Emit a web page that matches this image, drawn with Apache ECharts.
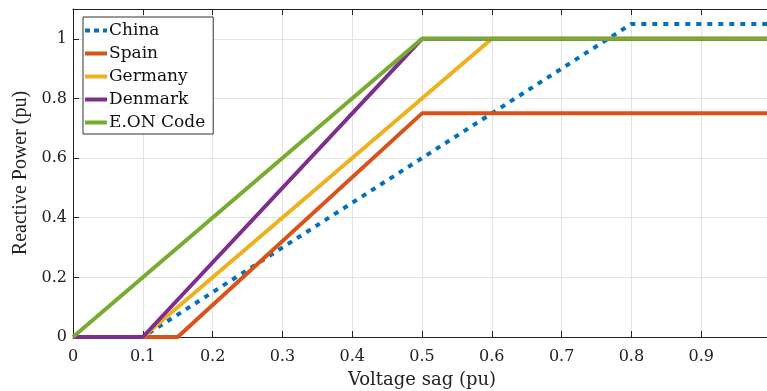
<!DOCTYPE html>
<html><head><meta charset="utf-8">
<script src="https://cdn.jsdelivr.net/npm/echarts@6/dist/echarts.min.js"></script>
<style>html,body{margin:0;padding:0;background:#fff}#c{width:767px;height:391px}</style>
</head><body><div id="c"></div>
<script>
const seriesNames = ['China', 'Spain', 'Germany', 'Denmark', 'E.ON Code'];
const chinaX = [0, 0.1, 0.8, 1.0];
const chinaY = [0, 0, 1.05, 1.05];
const spainX = [0, 0.15, 0.5, 1.0];
const spainY = [0, 0, 0.75, 0.75];
const germanyX = [0, 0.1, 0.6, 1.0];
const germanyY = [0, 0, 1, 1];
const denmarkX = [0, 0.1, 0.5, 1.0];
const denmarkY = [0, 0, 1, 1];
const eonX = [0, 0.5, 1.0];
const eonY = [0, 1, 1];
const xTicks = [0, 0.1, 0.2, 0.3, 0.4, 0.5, 0.6, 0.7, 0.8, 0.9];
const yTicks = [0, 0.2, 0.4, 0.6, 0.8, 1];

const colors = ['#0072BD', '#D95319', '#EDB120', '#7E2F8E', '#77AC30'];
const xs = [chinaX, spainX, germanyX, denmarkX, eonX];
const ys = [chinaY, spainY, germanyY, denmarkY, eonY];
const wide = 'DejaVu Serif, serif';
const times = 'Liberation Serif, Times New Roman, serif';

const chart = echarts.init(document.getElementById('c'));
const series = seriesNames.map((n, i) => ({
  name: n, type: 'line', showSymbol: false, symbol: 'none',
  data: xs[i].map((x, k) => [x, ys[i][k]]),
  lineStyle: { color: colors[i], width: 4, type: i === 0 ? [5, 6] : 'solid', cap: 'butt' },
  itemStyle: { color: colors[i] },
  z: 2 + i
}));
chart.setOption({
  animation: false,
  grid: { left: 73, right: -4, top: 9, bottom: 54, containLabel: false, outerBoundsMode: 'none' },
  legend: {
    orient: 'vertical', left: 83, top: 17, padding: [5, 8, 3, 2],
    backgroundColor: '#fff', borderColor: '#333', borderWidth: 1,
    itemWidth: 22, itemHeight: 4, itemGap: 6,
    textStyle: { fontFamily: wide, fontSize: 17, color: '#111', padding: [0, 0, 0, -3], lineHeight: 16 },
    data: seriesNames.map((n, i) => ({ name: n, icon: i === 0 ? 'path://M0,0h5v4h-5zM9,0h5v4h-5zM18,0h4v4h-4z' : 'rect' }))
  },
  xAxis: [{
    type: 'value', min: 0, max: 1, interval: 0.1,
    name: 'Voltage sag (pu)', nameLocation: 'middle', nameGap: 34,
    nameTextStyle: { fontFamily: wide, fontSize: 18, color: '#222' },
    axisLine: { lineStyle: { color: '#222', width: 1 } },
    axisTick: { inside: true, length: 6, lineStyle: { color: '#222' } },
    axisLabel: { fontFamily: wide, fontSize: 16, color: '#222', margin: 12, showMaxLabel: false,
      formatter: v => xTicks.some(t => Math.abs(t - v) < 1e-6) ? String(+v.toFixed(1)) : '' },
    splitLine: { show: true, lineStyle: { color: '#e3e3e3' } }
  }, {
    type: 'value', position: 'top', min: 0, max: 1, interval: 0.1,
    axisLine: { show: true, onZero: false, lineStyle: { color: '#222' } },
    axisTick: { inside: true, length: 6, lineStyle: { color: '#222' } },
    axisLabel: { show: false }, splitLine: { show: false }
  }],
  yAxis: [{
    type: 'value', min: 0, max: 1.1, interval: 0.2,
    name: 'Reactive Power (pu)', nameLocation: 'middle', nameGap: 41,
    nameTextStyle: { fontFamily: times, fontSize: 20, color: '#222' },
    axisLine: { show: true, lineStyle: { color: '#222', width: 1 } },
    axisTick: { show: true, inside: true, length: 6, lineStyle: { color: '#222' } },
    axisLabel: { fontFamily: wide, fontSize: 16, color: '#222', margin: 6, showMaxLabel: false,
      formatter: v => yTicks.some(t => Math.abs(t - v) < 1e-6) ? String(+v.toFixed(1)) : '' },
    splitLine: { show: true, lineStyle: { color: '#e3e3e3' } }
  }],
  series: series
});
</script></body></html>
